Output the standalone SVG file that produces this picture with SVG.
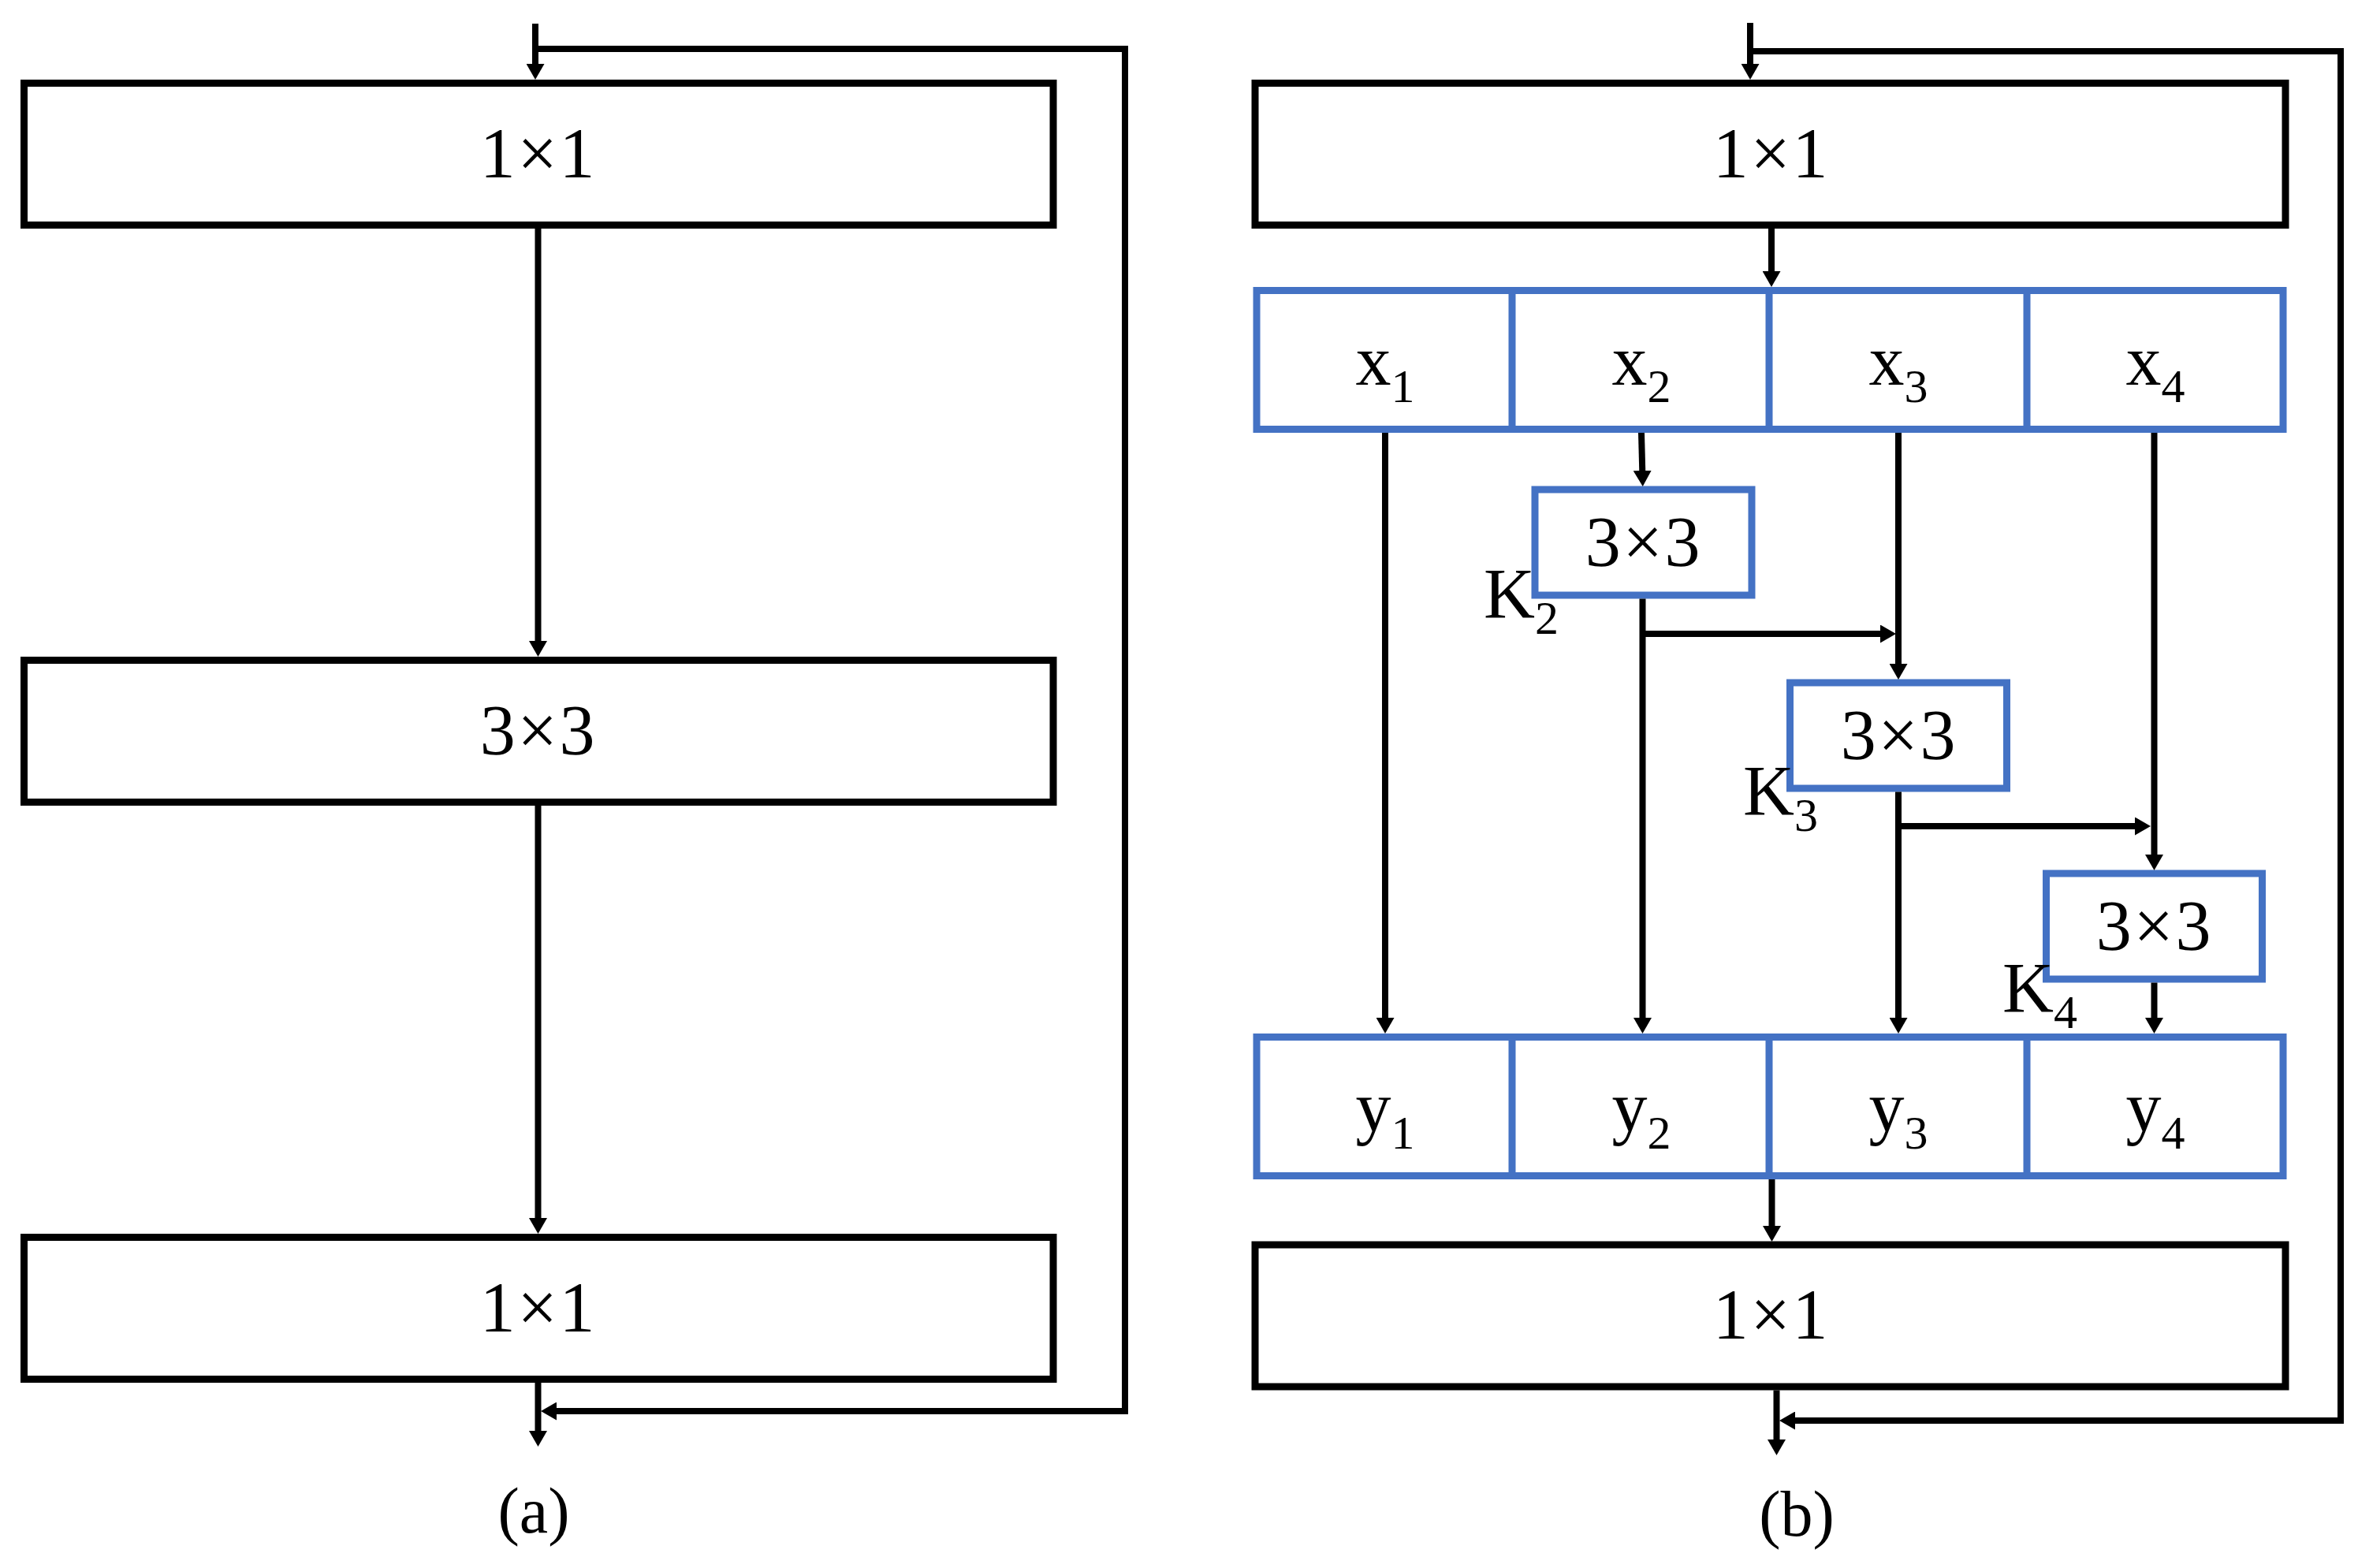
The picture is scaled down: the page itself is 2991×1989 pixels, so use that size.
<svg xmlns="http://www.w3.org/2000/svg" width="2991" height="1989" viewBox="0 0 2991 1989">
<style>
  .box { fill: #ffffff; stroke: #000000; stroke-width: 9; }
  .bbox { fill: #ffffff; stroke: #4472C4; stroke-width: 9; }
  .div { stroke: #4472C4; stroke-width: 9; fill: none; }
  .lbl { font-family: "Liberation Serif", "Times New Roman", serif; font-size: 90px; fill: #000; text-anchor: middle; letter-spacing: 2.5px; }
  .var { font-family: "Liberation Serif", "Times New Roman", serif; font-size: 90px; fill: #000; text-anchor: middle; }
  .k { font-family: "Liberation Serif", "Times New Roman", serif; font-size: 90px; fill: #000; }
  .sub { font-size: 60px; }
  .cap { font-family: "Liberation Serif", "Times New Roman", serif; font-size: 82px; fill: #000; text-anchor: middle; }
  .conn { fill: none; stroke: #000; stroke-width: 8; stroke-linejoin: miter; marker-end: url(#arrow); }
  .plain { fill: none; stroke: #000; stroke-width: 8; stroke-linejoin: miter; }
</style>
<defs>
  <marker id="arrow" markerUnits="userSpaceOnUse" viewBox="0 0 20 23" markerWidth="20" markerHeight="23" refX="10" refY="11.5" orient="auto">
    <path d="M0,0 L20,11.5 L0,23 Z" fill="#000"/>
  </marker>
</defs>
<rect x="0" y="0" width="2991" height="1989" fill="#ffffff"/>

<!-- Panel (a) -->
<g id="a-conv1x1-top">
  <rect class="box" x="30.5" y="105.5" width="1305.5" height="180"/>
  <text class="lbl" x="683" y="225">1×1</text>
</g>
<g id="a-conv3x3">
  <rect class="box" x="30.5" y="837.5" width="1305.5" height="180"/>
  <text class="lbl" x="683" y="957">3×3</text>
</g>
<g id="a-conv1x1-bottom">
  <rect class="box" x="30.5" y="1569.5" width="1305.5" height="180"/>
  <text class="lbl" x="683" y="1689">1×1</text>
</g>
<g id="a-caption">
  <text class="cap" x="677" y="1944">(a)</text>
</g>

<!-- Panel (b) -->
<g id="b-conv1x1-top">
  <rect class="box" x="1592" y="105.5" width="1307" height="180"/>
  <text class="lbl" x="2247" y="225">1×1</text>
</g>
<g id="b-x-split">
  <rect class="bbox" x="1594" y="368.5" width="1302" height="176"/>
  <line class="div" x1="1918" y1="368.5" x2="1918" y2="544.5"/>
  <line class="div" x1="2244" y1="368.5" x2="2244" y2="544.5"/>
  <line class="div" x1="2571" y1="368.5" x2="2571" y2="544.5"/>
  <text class="var" x="1757" y="488">x<tspan class="sub" dy="22">1</tspan></text>
  <text class="var" x="2082" y="488">x<tspan class="sub" dy="22">2</tspan></text>
  <text class="var" x="2408" y="488">x<tspan class="sub" dy="22">3</tspan></text>
  <text class="var" x="2734" y="488">x<tspan class="sub" dy="22">4</tspan></text>
</g>
<g id="b-K2">
  <rect class="bbox" x="1947" y="621" width="275" height="134"/>
  <text class="lbl" x="2085" y="718">3×3</text>
  <text class="k" x="1882" y="784">K<tspan class="sub" dy="20">2</tspan></text>
</g>
<g id="b-K3">
  <rect class="bbox" x="2270.5" y="866" width="275" height="134"/>
  <text class="lbl" x="2409" y="963">3×3</text>
  <text class="k" x="2211" y="1034">K<tspan class="sub" dy="20">3</tspan></text>
</g>
<g id="b-K4">
  <rect class="bbox" x="2595.5" y="1108" width="274" height="134"/>
  <text class="lbl" x="2733" y="1205">3×3</text>
  <text class="k" x="2540" y="1284">K<tspan class="sub" dy="20">4</tspan></text>
</g>
<g id="b-y-concat">
  <rect class="bbox" x="1594" y="1315.5" width="1302" height="176"/>
  <line class="div" x1="1918" y1="1315.5" x2="1918" y2="1491.5"/>
  <line class="div" x1="2244" y1="1315.5" x2="2244" y2="1491.5"/>
  <line class="div" x1="2571" y1="1315.5" x2="2571" y2="1491.5"/>
  <text class="var" x="1757" y="1435">y<tspan class="sub" dy="22">1</tspan></text>
  <text class="var" x="2082" y="1435">y<tspan class="sub" dy="22">2</tspan></text>
  <text class="var" x="2408" y="1435">y<tspan class="sub" dy="22">3</tspan></text>
  <text class="var" x="2734" y="1435">y<tspan class="sub" dy="22">4</tspan></text>
</g>
<g id="b-conv1x1-bottom">
  <rect class="box" x="1592" y="1579" width="1307" height="180"/>
  <text class="lbl" x="2247" y="1698">1×1</text>
</g>
<g id="b-caption">
  <text class="cap" x="2279" y="1948">(b)</text>
</g>

<g id="connectors">
  <!-- panel (a) -->
  <path class="conn" d="M679,30 V91"/>
  <path class="conn" d="M679,62 H1427 V1790 H696"/>
  <path class="conn" d="M682.5,290 V823"/>
  <path class="conn" d="M682.5,1022 V1555"/>
  <path class="conn" d="M682.5,1754 V1825"/>
  <!-- panel (b) -->
  <path class="conn" d="M2220,29 V91"/>
  <path class="conn" d="M2220,65 H2969 V1802 H2267"/>
  <path class="conn" d="M2247,290 V354"/>
  <path class="conn" d="M1757,549 V1301"/>
  <path class="conn" d="M2082,549 L2083.5,607"/>
  <path class="conn" d="M2083.5,759.5 V1301"/>
  <path class="conn" d="M2083.5,804 H2395"/>
  <path class="conn" d="M2408,549 V852"/>
  <path class="conn" d="M2408,1004.5 V1301"/>
  <path class="conn" d="M2408,1048 H2718"/>
  <path class="conn" d="M2732.5,549 V1094"/>
  <path class="conn" d="M2732.5,1246.5 V1301"/>
  <path class="conn" d="M2247.5,1496 V1565"/>
  <path class="conn" d="M2253.5,1763.5 V1836"/>
</g>
</svg>
